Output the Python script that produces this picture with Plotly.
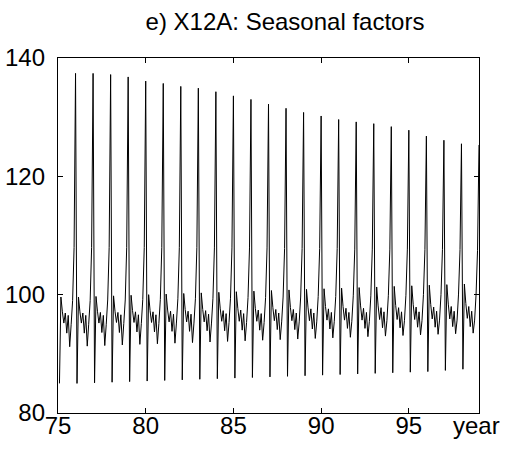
import plotly.graph_objects as go

years = list(range(1975, 1999))

jan = [85.0, 85.0, 85.1, 85.2, 85.3, 85.4, 85.5, 85.6, 85.7, 85.8, 85.9, 86.0,
       86.1, 86.2, 86.3, 86.4, 86.5, 86.6, 86.7, 86.8, 86.9, 87.0, 87.2, 87.4]
feb = [99.6, 99.6, 99.7, 99.8, 99.9, 100.0, 100.1, 100.2, 100.3, 100.4, 100.5, 100.6,
       100.7, 100.8, 100.9, 101.0, 101.1, 101.2, 101.3, 101.4, 101.5, 101.6, 101.7, 101.8]
mar = [97.1, 97.1, 97.2, 97.2, 97.3, 97.3, 97.4, 97.5, 97.5, 97.6, 97.7, 97.7,
       97.8, 97.8, 97.9, 98.0, 98.0, 98.1, 98.1, 98.2, 98.3, 98.3, 98.4, 98.5]
apr = [95.2, 95.2, 95.2, 95.3, 95.3, 95.3, 95.4, 95.4, 95.4, 95.5, 95.5, 95.5,
       95.6, 95.6, 95.6, 95.7, 95.7, 95.7, 95.8, 95.8, 95.8, 95.9, 95.9, 96.0]
may = [96.9, 96.9, 97.0, 97.0, 97.1, 97.1, 97.2, 97.2, 97.3, 97.3, 97.4, 97.4,
       97.5, 97.5, 97.6, 97.6, 97.7, 97.7, 97.8, 97.8, 97.9, 97.9, 98.0, 98.0]
jun = [93.5, 93.5, 93.6, 93.6, 93.7, 93.7, 93.8, 93.8, 93.9, 93.9, 94.0, 94.0,
       94.1, 94.1, 94.2, 94.2, 94.3, 94.3, 94.4, 94.4, 94.5, 94.5, 94.6, 94.6]
jul = [96.5, 96.5, 96.5, 96.6, 96.6, 96.6, 96.7, 96.7, 96.7, 96.8, 96.8, 96.8,
       96.9, 96.9, 96.9, 97.0, 97.0, 97.0, 97.1, 97.1, 97.1, 97.2, 97.2, 97.2]
aug = [91.2, 91.3, 91.4, 91.5, 91.6, 91.7, 91.8, 91.9, 92.0, 92.1, 92.2, 92.3,
       92.4, 92.5, 92.6, 92.7, 92.8, 92.9, 93.0, 93.1, 93.2, 93.3, 93.4, 93.5]
sep = [95.0, 95.0, 95.0, 95.1, 95.1, 95.1, 95.2, 95.2, 95.2, 95.3, 95.3, 95.3,
       95.4, 95.4, 95.4, 95.5, 95.5, 95.5, 95.6, 95.6, 95.6, 95.7, 95.7, 95.7]
oct_ = [99.0, 99.0, 99.1, 99.1, 99.2, 99.2, 99.3, 99.3, 99.4, 99.4, 99.5, 99.5,
        99.6, 99.6, 99.7, 99.7, 99.8, 99.8, 99.9, 99.9, 100.0, 100.0, 100.1, 100.1]
nov = [108.0, 108.0, 108.0, 108.0, 108.0, 108.0, 108.0, 108.0, 107.9, 107.9, 107.9, 107.9,
       107.8, 107.8, 107.8, 107.8, 107.7, 107.7, 107.7, 107.7, 107.6, 107.6, 107.6, 107.5]
dec = [137.4, 137.4, 137.2, 136.8, 136.1, 135.7, 135.2, 134.9, 134.3, 133.6, 133.0, 132.2,
       131.5, 130.8, 130.2, 129.6, 129.2, 128.9, 128.4, 127.8, 126.8, 126.1, 125.5, 125.3]

months = [jan, feb, mar, apr, may, jun, jul, aug, sep, oct_, nov, dec]

x_ticks = [75, 80, 85, 90, 95]
y_ticks = [80, 100, 120, 140]

t, v = [], []
for i, yr in enumerate(years):
    for m in range(12):
        t.append((yr - 1900) + (m + 1) / 12.0)
        v.append(months[m][i])

fig = go.Figure()
fig.add_trace(go.Scatter(x=t, y=v, mode="lines",
                         line=dict(color="black", width=1), showlegend=False))

FAM = "Liberation Sans, Arial, sans-serif"
font = dict(family=FAM, size=24, color="black")

fig.update_layout(
    width=506, height=462,
    margin=dict(l=58, r=27, t=58, b=49, autoexpand=False),
    paper_bgcolor="white", plot_bgcolor="white",
    title=dict(text="e) X12A: Seasonal factors", x=285 / 506, xanchor="center",
               y=1 - 22 / 462, yanchor="middle",
               font=dict(family=FAM, size=24, color="black")),
    xaxis=dict(range=[75, 99], tickvals=x_ticks, ticktext=[str(x) for x in x_ticks],
               ticks="inside", ticklen=5, tickcolor="black", showgrid=False,
               zeroline=False, showline=True, linecolor="black", linewidth=1.3,
               mirror="ticks", tickfont=font, automargin=False, ticklabelstandoff=-9),
    yaxis=dict(range=[80, 140], tickvals=y_ticks, ticktext=[str(y) for y in y_ticks],
               ticks="inside", ticklen=5, tickcolor="black", showgrid=False,
               zeroline=False, showline=True, linecolor="black", linewidth=1.3,
               mirror="ticks", tickfont=font, automargin=False, ticklabelstandoff=7),
    annotations=[dict(text="year", xref="paper", yref="paper",
                      x=(476 - 58) / (479 - 58), y=(462 - 49 - 425) / (462 - 58 - 49),
                      xanchor="center", yanchor="middle",
                      showarrow=False, font=font)],
)

fig.write_html("out.html", config={"displayModeBar": False},
               post_script="document.body.style.margin='0';document.body.style.overflow='hidden';")
